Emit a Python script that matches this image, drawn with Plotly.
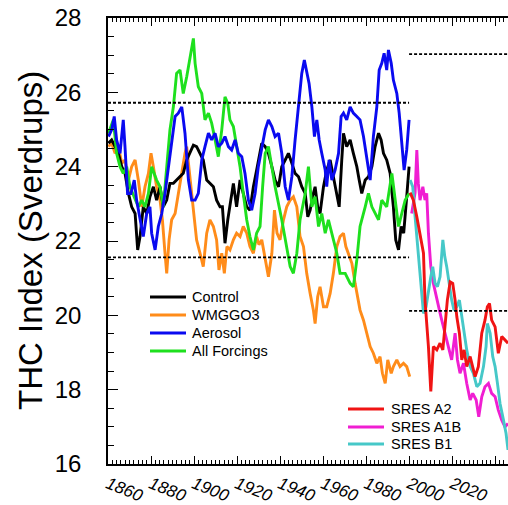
import plotly.graph_objects as go

# ---------------- data ----------------
control_years = [1860.2, 1861.7, 1863.3, 1864.8, 1866.4, 1867.9, 1869.5, 1871.0, 1872.6, 1873.8, 1874.9, 1876.4, 1878.0, 1879.5, 1881.1, 1882.6, 1884.2, 1885.7, 1887.3, 1888.8, 1890.4, 1891.9, 1893.5, 1895.0, 1896.6, 1898.1, 1899.7, 1901.2, 1902.8, 1904.3, 1905.9, 1907.4, 1909.0, 1910.5, 1912.1, 1913.2, 1914.4, 1915.7, 1917.2, 1918.3, 1919.8, 1921.4, 1922.9, 1924.5, 1926.0, 1927.6, 1929.1, 1930.2, 1931.5, 1933.1, 1934.6, 1936.2, 1937.7, 1939.3, 1940.8, 1942.4, 1943.9, 1945.5, 1947.0, 1948.6, 1950.1, 1951.7, 1952.9, 1954.0, 1955.1, 1956.3, 1957.5, 1958.6, 1960.2, 1961.7, 1963.3, 1964.8, 1966.4, 1967.5, 1968.7, 1969.5, 1971.0, 1972.6, 1974.1, 1975.7, 1976.8, 1978.0, 1979.6, 1981.1, 1982.7, 1984.2, 1985.8, 1987.0, 1988.1, 1989.6, 1991.2, 1992.7, 1993.8, 1995.1, 1996.3, 1997.5, 1998.9, 2000.0]
control_vals = [24.63, 24.72, 24.54, 24.36, 24.00, 23.82, 23.28, 22.92, 22.74, 21.76, 22.12, 22.92, 22.74, 23.19, 23.46, 23.10, 23.46, 22.92, 23.10, 23.55, 23.55, 23.64, 23.73, 23.82, 24.18, 24.36, 24.58, 24.54, 24.36, 24.18, 23.64, 23.55, 23.46, 23.10, 22.92, 22.92, 21.94, 22.57, 23.10, 23.55, 22.92, 23.64, 23.28, 22.92, 22.83, 23.46, 23.90, 24.20, 24.63, 24.54, 24.36, 24.00, 23.64, 23.46, 24.00, 24.18, 24.36, 24.09, 23.82, 23.73, 23.46, 23.28, 22.65, 22.83, 23.19, 23.46, 22.92, 22.74, 23.46, 23.91, 24.18, 23.73, 23.19, 22.92, 24.18, 24.90, 24.54, 24.72, 24.36, 24.00, 23.64, 23.28, 23.64, 23.73, 24.00, 24.54, 24.90, 24.72, 24.36, 24.18, 23.82, 22.92, 22.03, 21.76, 22.39, 22.21, 23.19, 24.00]

wmggo3_years = [1860.2, 1861.7, 1863.3, 1864.8, 1866.4, 1867.9, 1869.5, 1871.0, 1872.6, 1874.1, 1875.7, 1877.2, 1878.8, 1880.0, 1881.1, 1882.6, 1884.2, 1885.3, 1886.5, 1887.3, 1888.4, 1889.6, 1891.2, 1892.7, 1894.3, 1895.8, 1896.6, 1897.7, 1898.9, 1900.2, 1901.2, 1902.8, 1904.3, 1905.9, 1907.4, 1909.0, 1910.5, 1911.6, 1912.9, 1914.1, 1915.3, 1916.7, 1918.3, 1919.8, 1921.4, 1922.9, 1924.5, 1926.0, 1927.6, 1929.1, 1930.2, 1931.5, 1933.1, 1934.6, 1936.2, 1937.4, 1938.6, 1940.0, 1941.6, 1943.1, 1944.7, 1946.2, 1947.8, 1949.3, 1950.9, 1952.4, 1954.0, 1955.5, 1956.3, 1957.5, 1958.6, 1960.2, 1961.7, 1963.3, 1964.8, 1966.4, 1967.9, 1969.5, 1970.6, 1971.8, 1973.4, 1974.9, 1976.2, 1977.2, 1978.8, 1980.3, 1981.9, 1983.4, 1985.0, 1986.5, 1987.6, 1988.9, 1990.1, 1991.7, 1992.7, 1994.3, 1995.8, 1997.4, 1998.9, 2000.3]
wmggo3_vals = [24.54, 24.63, 24.36, 24.54, 24.09, 24.18, 23.64, 24.00, 24.18, 23.64, 22.92, 23.46, 23.82, 24.36, 24.00, 23.46, 23.10, 22.57, 21.67, 21.13, 22.03, 22.57, 22.74, 23.28, 23.82, 24.36, 24.54, 24.00, 23.28, 22.57, 22.03, 21.67, 21.31, 22.21, 22.57, 22.39, 22.03, 21.22, 21.67, 21.13, 21.85, 21.76, 22.03, 22.21, 22.12, 22.39, 22.21, 21.85, 21.67, 22.12, 21.90, 22.03, 21.49, 21.04, 21.67, 22.83, 22.21, 22.03, 22.57, 22.92, 23.10, 23.19, 22.92, 22.12, 21.85, 21.13, 20.59, 20.14, 19.78, 20.50, 20.77, 20.23, 20.23, 20.59, 21.13, 21.85, 22.12, 22.21, 21.85, 21.67, 21.40, 20.86, 20.41, 20.14, 19.87, 19.52, 19.16, 18.98, 18.71, 18.89, 18.44, 18.17, 18.80, 18.44, 18.62, 18.80, 18.62, 18.71, 18.62, 18.35]

aerosol_years = [1860.2, 1861.7, 1862.9, 1864.0, 1865.6, 1867.1, 1867.9, 1869.1, 1870.7, 1872.2, 1873.3, 1874.9, 1876.4, 1878.0, 1879.5, 1880.3, 1881.9, 1883.4, 1885.0, 1886.5, 1888.1, 1889.6, 1891.2, 1892.7, 1894.3, 1895.8, 1897.4, 1898.9, 1900.5, 1902.0, 1903.6, 1905.1, 1906.7, 1908.2, 1909.8, 1911.3, 1912.9, 1914.4, 1916.0, 1917.5, 1919.1, 1920.6, 1922.2, 1923.7, 1925.3, 1926.8, 1928.4, 1929.9, 1931.5, 1933.1, 1934.6, 1936.2, 1937.7, 1939.3, 1940.8, 1942.4, 1943.9, 1945.5, 1947.0, 1948.6, 1950.1, 1951.3, 1952.4, 1953.5, 1954.8, 1956.0, 1957.1, 1958.2, 1959.4, 1961.0, 1961.7, 1962.8, 1964.1, 1965.6, 1967.2, 1968.4, 1969.5, 1971.0, 1972.6, 1974.1, 1975.7, 1977.2, 1978.8, 1980.3, 1981.9, 1983.4, 1985.0, 1986.1, 1987.3, 1988.4, 1989.6, 1990.4, 1991.7, 1992.7, 1994.3, 1995.4, 1996.6, 1997.7, 1998.9, 2000.0]
aerosol_vals = [24.81, 24.99, 25.35, 24.72, 24.36, 25.26, 24.54, 23.28, 23.28, 23.64, 23.10, 22.57, 22.12, 22.74, 22.92, 22.21, 21.76, 22.39, 22.74, 23.28, 24.00, 24.72, 25.35, 25.44, 25.61, 24.90, 23.64, 23.10, 23.10, 23.28, 24.18, 24.54, 24.90, 24.72, 24.90, 24.54, 24.63, 24.81, 24.54, 24.45, 24.72, 24.36, 24.27, 23.82, 23.10, 22.83, 23.28, 24.00, 24.54, 24.99, 25.26, 25.08, 24.81, 24.90, 24.36, 23.46, 23.10, 23.73, 24.72, 25.61, 26.51, 26.87, 26.51, 26.24, 25.61, 24.81, 25.26, 24.72, 24.36, 23.91, 23.46, 24.18, 23.64, 23.91, 24.36, 25.35, 25.44, 25.26, 25.61, 25.44, 25.35, 25.26, 24.81, 24.18, 23.64, 24.81, 25.61, 26.60, 26.78, 27.05, 26.60, 27.14, 26.78, 26.33, 25.97, 25.44, 24.54, 23.91, 24.45, 25.26]

allforc_years = [1860.2, 1862.5, 1864.0, 1865.6, 1867.1, 1868.7, 1870.2, 1872.6, 1874.1, 1875.7, 1877.2, 1878.8, 1880.3, 1882.6, 1884.2, 1885.7, 1887.3, 1888.8, 1890.4, 1891.9, 1893.5, 1895.0, 1896.6, 1898.1, 1899.7, 1900.5, 1902.0, 1903.6, 1905.1, 1906.7, 1908.2, 1909.8, 1911.3, 1912.9, 1914.4, 1915.7, 1916.7, 1918.3, 1919.8, 1921.4, 1922.9, 1924.5, 1926.0, 1927.6, 1929.1, 1930.7, 1931.9, 1933.1, 1934.6, 1937.7, 1940.8, 1943.1, 1944.7, 1946.2, 1947.8, 1949.3, 1951.7, 1953.2, 1954.8, 1956.3, 1957.9, 1959.4, 1961.0, 1962.5, 1964.1, 1966.4, 1967.9, 1970.3, 1972.6, 1974.1, 1975.7, 1977.2, 1979.6, 1981.1, 1982.7, 1984.2, 1985.8, 1987.3, 1989.6, 1992.0, 1993.5, 1995.1, 1996.6, 1998.2, 2000.0]
allforc_vals = [24.90, 25.26, 24.36, 24.00, 23.82, 24.00, 23.46, 23.10, 22.92, 23.10, 22.92, 23.28, 24.00, 23.64, 23.46, 22.92, 24.00, 24.99, 25.61, 26.51, 26.60, 25.97, 26.42, 26.87, 27.45, 26.78, 26.15, 25.97, 25.26, 25.44, 25.17, 24.72, 24.27, 24.99, 25.88, 25.70, 25.26, 25.08, 24.54, 24.00, 23.28, 22.57, 22.12, 21.76, 22.21, 22.39, 23.46, 24.36, 24.54, 23.46, 22.57, 21.85, 21.31, 21.13, 21.67, 22.57, 23.28, 24.00, 22.92, 23.19, 22.39, 22.74, 22.21, 22.57, 22.21, 21.67, 21.13, 21.13, 20.86, 20.77, 21.49, 22.39, 22.92, 23.28, 22.92, 22.74, 22.57, 23.10, 22.92, 23.82, 23.10, 22.39, 22.74, 23.10, 23.28]

a2_years = [2000.5, 2002.0, 2003.6, 2005.1, 2006.7, 2007.4, 2009.0, 2010.1, 2011.3, 2012.9, 2014.4, 2015.7, 2016.7, 2017.8, 2019.1, 2020.3, 2021.4, 2022.2, 2023.4, 2024.5, 2025.6, 2026.8, 2028.4, 2029.6, 2030.7, 2032.2, 2033.8, 2035.3, 2036.4, 2037.4, 2038.4, 2040.0, 2041.5, 2043.1, 2044.6, 2046.0]
a2_vals = [23.30, 23.10, 22.65, 22.21, 21.67, 20.41, 19.16, 17.95, 19.16, 19.07, 19.25, 19.07, 19.69, 20.41, 20.90, 20.86, 20.41, 19.96, 19.52, 18.80, 19.07, 18.62, 18.89, 18.62, 18.35, 18.62, 19.52, 19.87, 20.23, 20.32, 19.87, 19.69, 18.98, 19.43, 19.34, 19.25]

a1b_years = [2001.2, 2002.8, 2003.6, 2004.3, 2005.1, 2006.4, 2007.4, 2008.2, 2009.0, 2010.1, 2011.3, 2012.9, 2014.1, 2015.2, 2016.7, 2018.3, 2019.8, 2021.4, 2022.5, 2023.7, 2025.3, 2026.8, 2028.4, 2029.6, 2031.2, 2032.4, 2033.8, 2035.3, 2036.9, 2038.4, 2040.0, 2041.5, 2043.1, 2044.6, 2046.0]
a1b_vals = [22.74, 23.30, 24.45, 23.55, 23.10, 23.46, 23.10, 23.28, 22.21, 21.31, 20.86, 20.41, 20.14, 19.87, 19.52, 19.07, 18.80, 19.52, 18.80, 18.44, 18.71, 18.17, 17.72, 17.90, 17.72, 17.27, 17.81, 18.08, 18.17, 17.90, 17.81, 17.45, 17.18, 17.00, 17.09]

b1_years = [2000.5, 2001.7, 2002.8, 2004.3, 2005.4, 2006.7, 2007.9, 2009.0, 2010.1, 2011.0, 2012.1, 2013.2, 2014.4, 2015.7, 2016.6, 2017.5, 2018.6, 2019.8, 2020.9, 2022.2, 2023.4, 2024.5, 2025.6, 2026.8, 2028.4, 2029.9, 2031.5, 2033.0, 2034.6, 2035.8, 2036.4, 2037.7, 2038.9, 2040.0, 2041.1, 2042.3, 2043.9, 2045.1, 2046.0]
b1_vals = [23.64, 23.46, 22.65, 21.67, 20.77, 20.05, 20.23, 20.68, 21.04, 21.31, 20.86, 20.77, 21.04, 22.03, 21.58, 21.31, 20.86, 20.41, 20.14, 20.23, 20.41, 19.96, 19.52, 19.07, 18.62, 18.44, 18.08, 18.17, 18.62, 19.16, 19.78, 19.52, 18.89, 18.62, 18.17, 17.63, 17.18, 16.82, 16.38]

# dashed reference levels: (start year, end year, level)
ref_levels = [(1860, 2000, 25.72), (1860, 2000, 21.56), (2000, 2047, 27.03), (2000, 2047, 20.12)]

x_tick_vals = [1860, 1880, 1900, 1920, 1940, 1960, 1980, 2000, 2020, 2040]
x_tick_text = ["1860", "1880", "1900", "1920", "1940", "1960", "1980", "2000", "2020", ""]
y_tick_vals = [16, 18, 20, 22, 24, 26, 28]

legend1_names = ["Control", "WMGGO3", "Aerosol", "All Forcings"]
legend2_names = ["SRES A2", "SRES A1B", "SRES B1"]

FONT = "Liberation Sans, Arial, Helvetica, sans-serif"
COLORS = {"Control": "#000000", "WMGGO3": "#FF8C1A", "Aerosol": "#0A0AF0",
          "All Forcings": "#1EE01E", "SRES A2": "#F01414", "SRES A1B": "#F01ED2",
          "SRES B1": "#46C8C8"}

# layout geometry (pixels)
W, H = 508, 505
ML, MR, MT, MB = 108, 0, 18, 41
PW, PH = W - ML - MR, H - MT - MB


def px_x(p):
    return (p - ML) / PW


def px_y(p):
    return (H - MB - p) / PH


fig = go.Figure()

series = [
    ("WMGGO3", wmggo3_years, wmggo3_vals),
    ("Control", control_years, control_vals),
    ("All Forcings", allforc_years, allforc_vals),
    ("Aerosol", aerosol_years, aerosol_vals),
    ("SRES A1B", a1b_years, a1b_vals),
    ("SRES B1", b1_years, b1_vals),
    ("SRES A2", a2_years, a2_vals),
]
for name, xs, ys in series:
    fig.add_trace(go.Scatter(x=xs, y=ys, mode="lines", name=name, showlegend=False,
                             hoverinfo="skip",
                             line=dict(color=COLORS[name], width=2.9)))

for x0, x1, lv in ref_levels:
    fig.add_shape(type="line", xref="x", yref="y", x0=x0, x1=x1, y0=lv, y1=lv,
                  line=dict(color="black", width=1.8, dash="3px,2px"), layer="above")


# legends drawn as line samples + text
def add_legend(names, line_x0, line_x1, text_x, rows):
    for name, ry in zip(names, rows):
        fig.add_shape(type="line", xref="paper", yref="paper",
                      x0=px_x(line_x0), x1=px_x(line_x1), y0=px_y(ry), y1=px_y(ry),
                      line=dict(color=COLORS[name], width=3.2))
        fig.add_annotation(text=name, xref="paper", yref="paper",
                           x=px_x(text_x), y=px_y(ry), xanchor="left", yanchor="middle",
                           showarrow=False, font=dict(family=FONT, size=14.5, color="black"))


add_legend(legend1_names, 150, 186, 190, [297, 315, 333, 351])
add_legend(legend2_names, 348, 384, 389, [409, 427, 444])

fig.add_annotation(text="THC Index (Sverdrups)", xref="paper", yref="paper",
                   x=px_x(30), y=0.5, xanchor="center", yanchor="middle",
                   textangle=-90, showarrow=False,
                   font=dict(family=FONT, size=33, color="black"))

fig.update_layout(
    width=W, height=H,
    margin=dict(l=ML, r=MR, t=MT, b=MB, autoexpand=False),
    paper_bgcolor="white", plot_bgcolor="white",
    font=dict(family=FONT, color="black"),
    showlegend=False,
    xaxis=dict(range=[1860, 2046], showline=True, linecolor="black", linewidth=1.5,
               mirror="ticks", ticks="inside", ticklen=8, tickwidth=1.2, tickcolor="black",
               tickvals=x_tick_vals, ticktext=x_tick_text, tickangle=22,
               ticklabelstandoff=2, automargin=False,
               tickfont=dict(family=FONT, size=17, color="black", style="italic"),
               minor=dict(dtick=2, ticks="inside", ticklen=4, tickwidth=1, tickcolor="black"),
               showgrid=False, zeroline=False),
    yaxis=dict(range=[16, 28], showline=True, linecolor="black", linewidth=1.5,
               ticks="inside", ticklen=10, tickwidth=1.2, tickcolor="black",
               tickvals=y_tick_vals, ticklabelstandoff=20, automargin=False,
               tickfont=dict(family=FONT, size=24, color="black"),
               minor=dict(dtick=0.5, ticks="inside", ticklen=6, tickwidth=1, tickcolor="black"),
               showgrid=False, zeroline=False),
)

fig.write_html("out.html", config={"displayModeBar": False},
               post_script="document.body.style.margin='0px';document.body.style.padding='0px';")
